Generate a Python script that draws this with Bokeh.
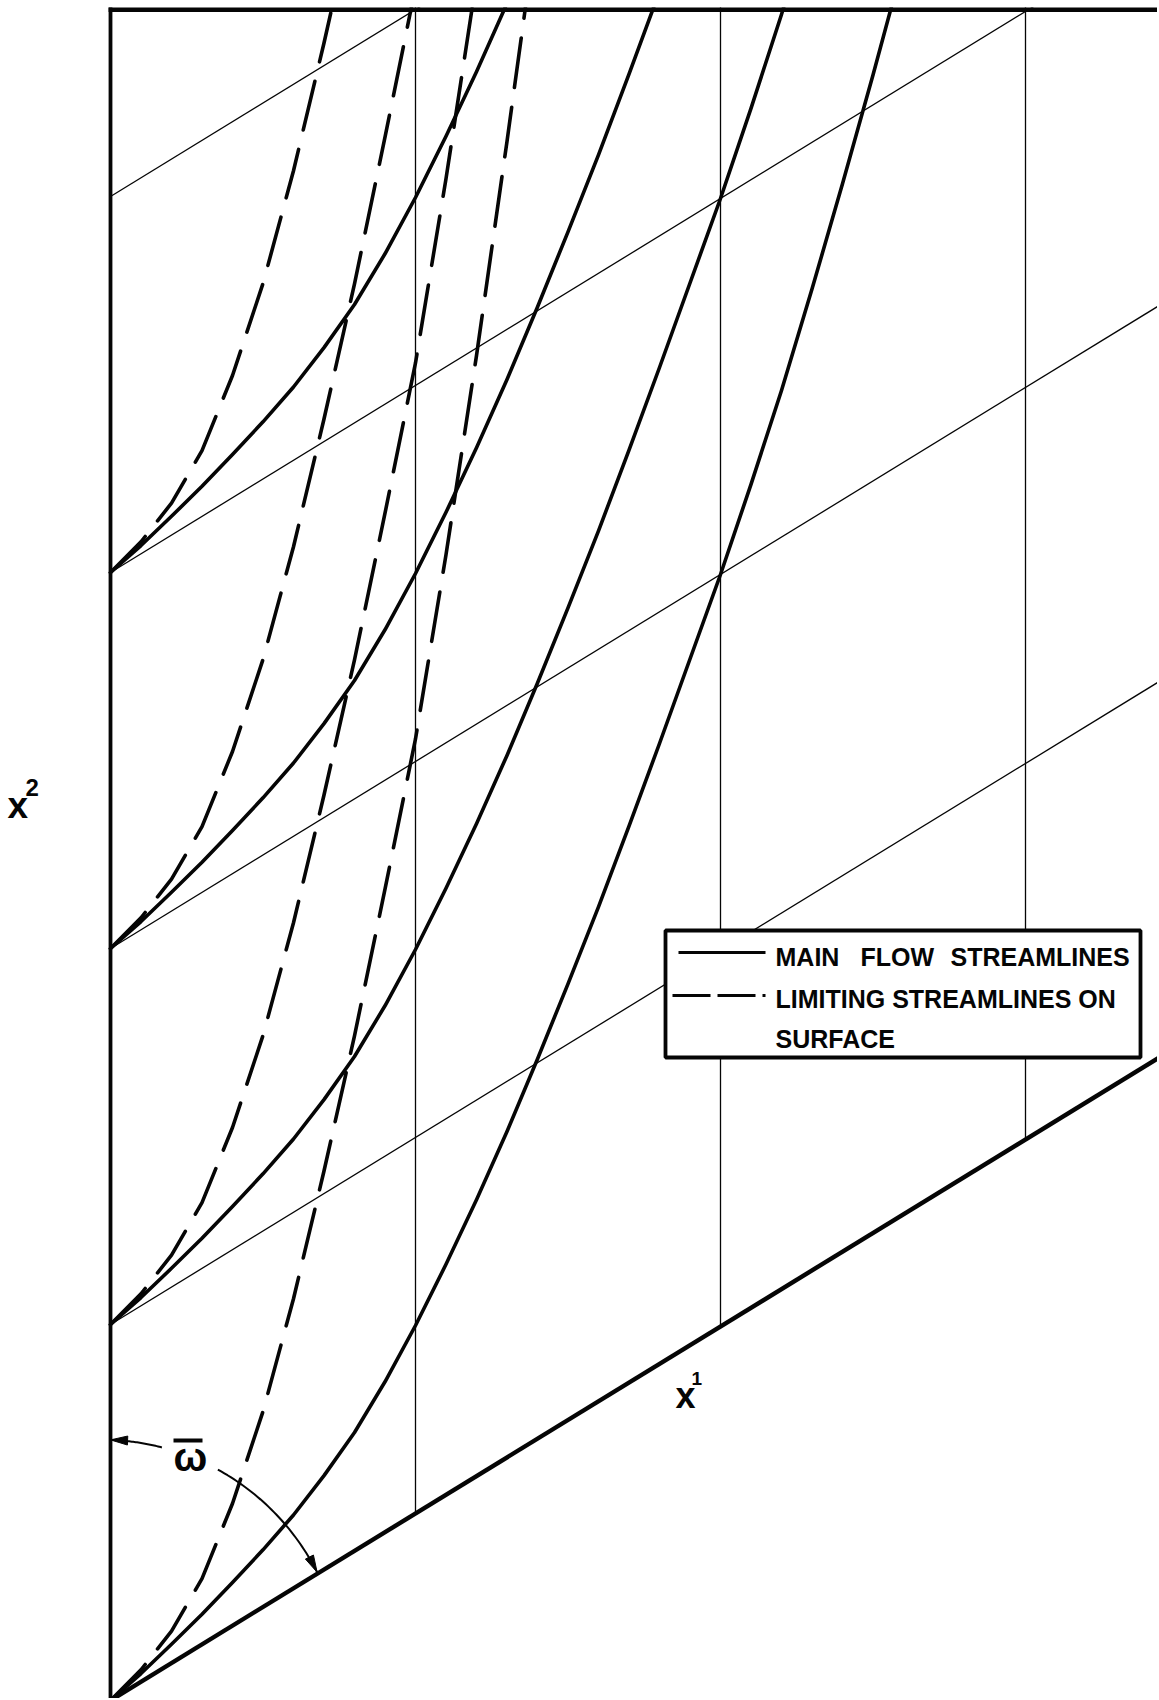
import numpy as np
from bokeh.plotting import figure
from bokeh.models import Range1d
from bokeh.embed import file_html
from bokeh.resources import INLINE
from bokeh.core.properties import value

# ---------------- data ----------------
# Streamlines are given in the skew (x1, x2) grid, in grid-cell units.
# Each pair (main flow + limiting) leaves the x2 axis at one of these x2 values.
STREAMLINE_START_X2 = [0, 1, 2, 3]

# main flow streamline: x1 and rise in x2 above its starting point
MAIN_X1 = [0.0, 0.1, 0.2, 0.3, 0.4, 0.5, 0.6, 0.7, 0.8, 0.9, 1.0, 1.1, 1.2, 1.3,
           1.4, 1.5, 1.6, 1.7, 1.8, 1.9, 2.0, 2.1, 2.2, 2.3, 2.4, 2.5, 2.6]
MAIN_DX2 = [0.0, 0.022, 0.05, 0.08, 0.115, 0.152, 0.195, 0.25, 0.315, 0.40, 0.50,
            0.613, 0.735, 0.867, 1.01, 1.16, 1.315, 1.48, 1.65, 1.825, 2.0, 2.19,
            2.39, 2.61, 2.84, 3.08, 3.33]

# limiting streamline on the surface
LIMIT_X1 = [0.0, 0.1, 0.2, 0.3, 0.4, 0.5, 0.6, 0.7, 0.8, 0.9, 1.0, 1.1, 1.2, 1.3, 1.4]
LIMIT_DX2 = [0.0, 0.032, 0.085, 0.175, 0.325, 0.52, 0.77, 1.06, 1.37, 1.71, 2.06,
             2.50, 2.98, 3.50, 4.04]

# coordinate grid lines
X1_GRID = [1, 2, 3]
X2_GRID = [1, 2, 3, 4]

LEGEND_MAIN_WORDS = ["MAIN", "FLOW", "STREAMLINES"]
LEGEND_LIMIT_LINES = ["LIMITING STREAMLINES ON", "SURFACE"]

# ---------------- geometry of the skew frame (page pixels) ----------------
OX, OY = 110.0, 1700.0        # origin (corner of x1 and x2 axes)
E1X, E1Y = 305.0, 187.0       # one x1 cell: right and up
E2Y = 376.0                   # one x2 cell: up
TOP_Y = 9.0                   # top border
FRAME_TOP = 7                 # frame starts here, so lines stop under the border

W, H = 1157, 1698


def to_xy(x1, x2):
    x1 = np.asarray(x1, dtype=float)
    x2 = np.asarray(x2, dtype=float)
    return OX + E1X * x1, OY - E1Y * x1 - E2Y * x2


p = figure(width=W, height=H,
           x_range=Range1d(0, W), y_range=Range1d(H, FRAME_TOP),
           output_backend="svg", toolbar_location=None,
           x_axis_type=None, y_axis_type=None,
           min_border_left=0, min_border_right=0, min_border_bottom=0,
           min_border_top=FRAME_TOP,
           outline_line_color=None, background_fill_color="white",
           border_fill_color="white")

INK = "#050505"
CURVE_W = 3.6

# thin grid lines
gx, gy = [], []
for u in X1_GRID:
    xs, ys = to_xy([u, u], [0, 5])
    gx.append(list(xs)); gy.append(list(ys))
for v in X2_GRID:
    xs, ys = to_xy([0, 4], [v, v])
    gx.append(list(xs)); gy.append(list(ys))
p.multi_line(gx, gy, line_color=INK, line_width=1.3)

# limiting streamlines (dashed)
lx, ly = [], []
for s in STREAMLINE_START_X2:
    xs, ys = to_xy(LIMIT_X1, np.asarray(LIMIT_DX2) + s)
    lx.append(list(xs)); ly.append(list(ys))
p.multi_line(lx, ly, line_color=INK, line_width=CURVE_W, line_dash="50 20",
             line_cap="round", line_join="round")

# main flow streamlines (solid)
mx, my = [], []
for s in STREAMLINE_START_X2:
    xs, ys = to_xy(MAIN_X1, np.asarray(MAIN_DX2) + s)
    mx.append(list(xs)); my.append(list(ys))
p.multi_line(mx, my, line_color=INK, line_width=CURVE_W, line_cap="round",
             line_join="round")

# heavy axes / border
bx, by = to_xy([0, 4], [0, 0])
p.line(list(bx), list(by), line_color=INK, line_width=4.4)
lbx, lby = to_xy([0, 0], [0, 5])
p.line(list(lbx), list(lby), line_color=INK, line_width=3.8)
p.line([OX - 1.9, 1170], [TOP_Y, TOP_Y], line_color=INK, line_width=5.0)

# angle arc with arrows
ARC_CX, ARC_CY, ARC_R = 100.8, 1681.2, 242.0
for a0, a1 in [(87.8, 75.5), (61.2, 26.9)]:
    t = np.radians(np.linspace(a0, a1, 40))
    p.line(list(ARC_CX + ARC_R * np.cos(t)), list(ARC_CY - ARC_R * np.sin(t)),
           line_color=INK, line_width=2.0)

heads_x, heads_y = [], []
for ang, ccw in [(87.8, True), (26.9, False)]:
    t = np.radians(ang)
    tx, ty = ARC_CX + ARC_R * np.cos(t), ARC_CY - ARC_R * np.sin(t)
    if ccw:
        dx, dy = -np.sin(t), -np.cos(t)
    else:
        dx, dy = np.sin(t), np.cos(t)
    L, HW = 17.0, 4.5
    bxh, byh = tx - L * dx, ty - L * dy
    nx, ny = -dy, dx
    heads_x.append([tx, bxh + HW * nx, bxh - HW * nx])
    heads_y.append([ty, byh + HW * ny, byh - HW * ny])
p.patches(heads_x, heads_y, fill_color=INK, line_color=INK, line_width=1)

FONT = value("Liberation Sans")


def label(x, baseline, txt, size):
    # placed by the middle of the em box: baseline sits 0.35 em below it
    p.text(x=[x], y=[baseline - 0.35 * size], text=[txt], text_font=FONT,
           text_font_style="bold", text_font_size=f"{size}px",
           text_baseline="middle", text_align="left", text_color=INK)


# omega-bar label
label(173, 1470, "ω", 40)
p.line([173, 202], [1440, 1440], line_color=INK, line_width=3.8)

# axis labels
label(7, 818, "x", 37)
label(25, 795, "2", 24)
label(675, 1408, "x", 36)
label(691, 1385, "1", 19)

# legend
p.quad(left=[665], right=[1140], top=[930], bottom=[1057], fill_color="white",
       line_color=INK, line_width=3.8)
p.line([678, 765], [952, 952], line_color=INK, line_width=3.2)
p.line([672, 765], [995, 995], line_color=INK, line_width=3.2, line_dash="38 7")
for word, wx in zip(LEGEND_MAIN_WORDS, [775, 860, 950]):
    label(wx, 965, word, 25)
for line, ly_ in zip(LEGEND_LIMIT_LINES, [1007, 1047]):
    label(775, ly_, line, 25)

open("out.html", "w").write(file_html(p, INLINE))
